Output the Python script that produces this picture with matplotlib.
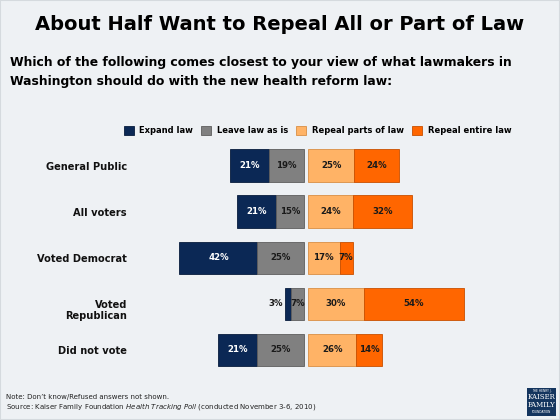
import numpy as np
import matplotlib.pyplot as plt
from matplotlib.patches import Rectangle

groups = ["General Public", "All voters", "Voted Democrat", "Voted\nRepublican", "Did not vote"]
expand = [21, 21, 42, 3, 21]
leave = [19, 15, 25, 7, 25]
repeal_parts = [25, 24, 17, 30, 26]
repeal_all = [24, 32, 7, 54, 14]
series_names = ["Expand law", "Leave law as is", "Repeal parts of law", "Repeal entire law"]
colors = ["#0b2855", "#808080", "#ffb366", "#ff6600"]
edges = ["#081c3d", "#5e5e5e", "#d98f45", "#c84f00"]
txt_colors = ["white", "#1a1a1a", "#1a1a1a", "#1a1a1a"]

bg = "#eef1f4"
W, H = 560, 420
fig = plt.figure(figsize=(5.6, 4.2), dpi=100, facecolor=bg)

# pixel layout of the plotting area
px_per = 1.86
center_px = 306
gap = 1.0 / px_per * 2
ax_left_px, ax_right_px = 20, 545
spacing = 46.1
top_px = 165.5 - spacing / 2
bot_px = top_px + spacing * 5
ax = fig.add_axes([ax_left_px / W, 1 - bot_px / H, (ax_right_px - ax_left_px) / W, (bot_px - top_px) / H])
ax.set_facecolor("none")
ax.set_xlim((ax_left_px - center_px) / px_per, (ax_right_px - center_px) / px_per)
ax.set_ylim(4.5, -0.5)
ax.set_axis_off()

y = np.arange(len(groups))
bh = 0.70
exp_a = np.array(expand)
lea_a = np.array(leave)
rp_a = np.array(repeal_parts)
ra_a = np.array(repeal_all)

b1 = ax.barh(y, -exp_a, left=-gap - lea_a, height=bh, color=colors[0], edgecolor=edges[0], linewidth=0.6)
b2 = ax.barh(y, -lea_a, left=-gap, height=bh, color=colors[1], edgecolor=edges[1], linewidth=0.6)
b3 = ax.barh(y, rp_a, left=gap, height=bh, color=colors[2], edgecolor=edges[2], linewidth=0.6)
b4 = ax.barh(y, ra_a, left=gap + rp_a, height=bh, color=colors[3], edgecolor=edges[3], linewidth=0.6)

lab_kw = dict(ha="center", va="center", fontsize=6.2, fontweight="bold")
for i in range(len(groups)):
    if expand[i] < 5:
        ax.text(-gap - leave[i] - expand[i] - 1.2, i, f"{expand[i]}%", ha="right", va="center",
                fontsize=6.2, fontweight="bold", color="#1a1a1a")
    else:
        ax.text(-gap - leave[i] - expand[i] / 2, i, f"{expand[i]}%", color=txt_colors[0], **lab_kw)
    ax.text(-gap - leave[i] / 2, i, f"{leave[i]}%", color=txt_colors[1], **lab_kw)
    ax.text(gap + repeal_parts[i] / 2, i, f"{repeal_parts[i]}%", color=txt_colors[2], **lab_kw)
    ax.text(gap + repeal_parts[i] + repeal_all[i] / 2, i, f"{repeal_all[i]}%", color=txt_colors[3], **lab_kw)

# category labels
label_x = (127 - center_px) / px_per
for i, g in enumerate(groups):
    dy = 0.15 if "\n" in g else 0.03
    ax.text(label_x, i + dy, g, ha="right", va="center", fontsize=7.1, fontweight="bold",
            color="#111111", linespacing=1.15)

fig.legend(handles=[b1, b2, b3, b4], labels=series_names, loc="center",
           bbox_to_anchor=(317.5 / W, 1 - 130.5 / H), ncol=4, frameon=False,
           prop={"size": 6.0, "weight": "bold"}, handlelength=1.2, handleheight=1.2,
           handletextpad=0.7, columnspacing=0.95, borderpad=0)

fig.text(0.5, 1 - 25 / H, "About Half Want to Repeal All or Part of Law", ha="center", va="center",
         fontsize=14, fontweight="bold", color="black")
fig.text(10 / W, 1 - 62.5 / H,
         "Which of the following comes closest to your view of what lawmakers in",
         ha="left", va="center", fontsize=8.9, fontweight="bold", color="black")
fig.text(10 / W, 1 - 81 / H,
         "Washington should do with the new health reform law:",
         ha="left", va="center", fontsize=8.9, fontweight="bold", color="black")

fig.text(6 / W, 1 - 397.5 / H, "Note: Don\u2019t know/Refused answers not shown.", ha="left", va="center",
         fontsize=5.0, color="#222222")
fig.text(6 / W, 1 - 406.5 / H,
         "Source: Kaiser Family Foundation $\\mathit{Health\\ Tracking\\ Poll}$ (conducted November 3-6, 2010)",
         ha="left", va="center", fontsize=5.0, color="#222222")

# logo
fig.patches.append(Rectangle((527 / W, 1 - 416 / H), 29 / W, 28 / H, transform=fig.transFigure,
                             facecolor="#14355e", edgecolor="none"))
fig.text(541.5 / W, 1 - 391 / H, "THE HENRY J.", ha="center", va="center", fontsize=2.2, color="white")
fig.text(541.5 / W, 1 - 401 / H, "KAISER\nFAMILY", ha="center", va="center", fontsize=5, color="white",
         family="DejaVu Serif", linespacing=0.95)
fig.text(541.5 / W, 1 - 412 / H, "FOUNDATION", ha="center", va="center", fontsize=2.2, color="white")

fig.patches.append(Rectangle((0, 0), 1, 1, transform=fig.transFigure, facecolor="none",
                             edgecolor="#d5dade", linewidth=1.5))

fig.savefig("out.png", dpi=100, facecolor=bg)
